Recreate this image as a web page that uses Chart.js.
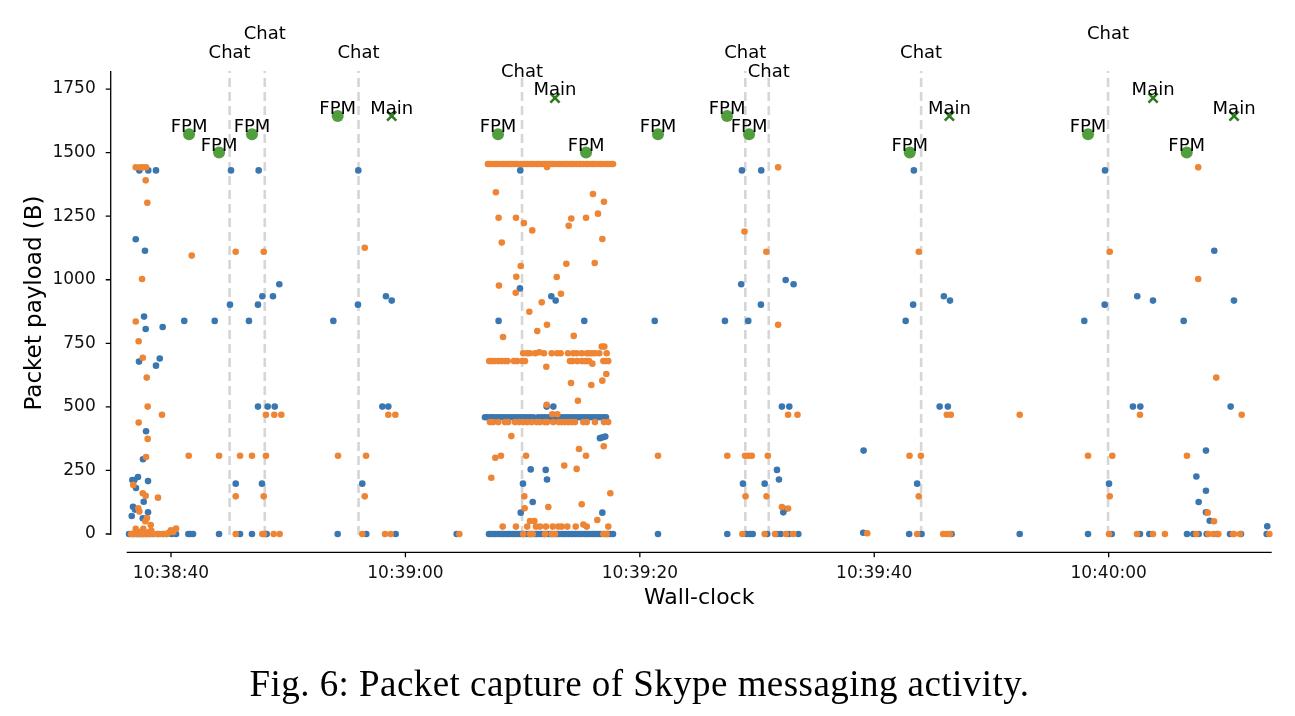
<!DOCTYPE html>
<html><head><meta charset="utf-8">
<script src="https://cdn.jsdelivr.net/npm/chart.js@4.4.0/dist/chart.umd.min.js"></script>
<style>
html,body{margin:0;padding:0;background:#fff;}
#wrap{position:relative;width:1295px;height:716px;overflow:hidden;background:#fff;}
canvas{position:absolute;left:0;top:0;}
#caption{position:absolute;left:-8px;width:1295px;top:662px;text-align:center;font-family:"Liberation Serif",serif;font-size:37px;letter-spacing:0.45px;color:#000;white-space:nowrap;}
</style></head>
<body><div id="wrap"><canvas id="c" width="1295" height="716"></canvas><div id="caption">Fig. 6: Packet capture of Skype messaging activity.</div></div>
<script>
// time = seconds after 10:38:00, payload in bytes
const xTickValues = [40, 60, 80, 100, 120];
const yTickValues = [0, 250, 500, 750, 1000, 1250, 1500, 1750];

const chatTimes  = [45.0, 48.0, 56.0, 69.95, 89.0, 91.0, 104.0, 119.95];
const chatLevels = [1, 2, 1, 0, 1, 0, 1, 2];

const fpmTimes    = [41.54, 44.10, 46.91, 54.22, 67.90, 75.41, 81.55, 87.44, 89.32, 103.03, 118.24, 126.66];
const fpmPayloads = [1572, 1500, 1572, 1644, 1572, 1500, 1572, 1644, 1572, 1500, 1572, 1500];

const mainTimes    = [58.83, 72.76, 106.41, 123.79, 130.70];
const mainPayloads = [1644, 1715, 1644, 1715, 1644];

const bluePackets = [
 [37.30,1430],[38.06,1430],[38.72,1430],[36.99,1159],[37.78,1114],[37.70,855],[37.84,806],[39.29,814],
 [37.27,678],[39.04,690],[38.72,662],[37.87,404],[37.61,294],[36.70,212],[36.87,212],[37.18,224],
 [38.04,208],[37.01,181],[37.67,127],[36.76,107],[36.93,96],[38.04,85],[36.65,71],[37.59,62],
 [36.42,0],[36.65,0],[36.84,0],[37.06,0],[37.30,0],[37.44,0],[37.61,0],[37.93,0],[38.21,0],[38.49,0],
 [38.92,0],[39.32,0],[39.63,0],[40.06,0],[40.43,0],[41.48,0],[41.65,0],[41.88,0],
 [45.12,1430],[47.48,1430],[55.98,1430],[49.24,982],[47.79,935],[48.70,935],[45.03,902],[47.42,902],
 [55.95,902],[58.34,935],[58.83,918],[41.13,838],[43.73,838],[46.65,838],[53.85,838],[47.42,501],
 [48.25,501],[48.85,501],[58.03,501],[58.54,501],[45.52,198],[47.76,198],[56.32,198],
 [44.10,0],[45.89,0],[46.91,0],[48.08,0],[48.16,0],[54.22,0],[56.66,0],[59.17,0],[64.37,0],
 [67.13,0],[67.34,0],[67.55,0],[67.72,0],[67.94,0],[68.15,0],[68.32,0],[68.53,0],[68.75,0],[68.92,0],
 [69.13,0],[69.34,0],[69.51,0],[69.73,0],[69.94,0],[70.11,0],[70.32,0],[70.54,0],[70.71,0],[70.92,0],
 [71.14,0],[71.31,0],[71.52,0],[71.73,0],[71.90,0],[72.12,0],[72.33,0],[72.50,0],[72.72,0],[72.93,0],
 [73.10,0],[73.31,0],[73.53,0],[73.70,0],[73.91,0],[74.13,0],[74.30,0],[74.51,0],[74.72,0],[74.89,0],
 [75.11,0],[75.32,0],[75.49,0],[75.70,0],[75.92,0],[76.09,0],[76.30,0],[76.51,0],[76.68,0],[76.90,0],
 [77.11,0],[77.28,0],[77.50,0],[77.71,0],
 [66.79,459],[67.02,459],[67.28,459],[67.50,459],[67.79,459],[68.07,459],[68.36,459],[68.64,459],
 [68.92,459],[69.21,459],[69.49,459],[69.77,459],[70.06,459],[70.35,459],[70.63,459],[70.91,459],
 [71.34,459],[71.63,459],[71.91,459],[72.19,459],[72.48,459],[72.76,459],[73.19,459],[73.47,459],
 [73.76,459],[74.04,459],[74.32,459],[74.61,459],[74.89,459],[75.18,459],[75.47,459],[75.75,459],
 [76.03,459],[76.32,459],[76.60,459],[76.88,459],[77.11,459],
 [69.80,1430],[69.77,966],[72.45,935],[72.82,918],[67.95,838],[75.26,838],[72.05,501],[72.62,501],
 [76.60,377],[76.83,380],[77.05,383],[70.69,254],[71.97,252],[72.08,214],[70.03,198],[70.86,126],
 [69.84,84],[76.80,84],
 [88.71,1430],[90.36,1430],[103.38,1430],[88.65,982],[92.44,999],[93.12,982],[90.33,902],[103.32,902],
 [105.94,935],[106.46,918],[81.27,838],[87.26,838],[89.25,838],[102.68,838],[92.12,501],[92.75,501],
 [105.58,501],[106.28,501],[99.09,328],[91.70,252],[91.87,214],[88.80,198],[90.65,198],[103.66,198],
 [92.24,85],[92.41,98],
 [81.55,0],[87.46,0],[89.11,0],[89.40,0],[89.63,0],[90.87,0],[91.67,0],[92.02,0],[92.70,0],[93.52,0],
 [99.06,5],[102.98,0],[104.04,0],[106.60,0],
 [119.69,1430],[129.01,1114],[122.44,935],[123.78,918],[119.66,902],[130.69,918],[117.92,838],[126.40,838],
 [122.07,501],[122.70,501],[130.41,501],[128.30,328],[127.48,226],[120.03,198],[128.30,170],[127.68,126],
 [128.30,85],[128.62,52],[133.53,30],
 [112.41,0],[118.24,0],[120.26,0],[122.67,0],[123.47,0],[126.68,0],[127.22,0],[127.68,0],[128.36,0],
 [129.27,0],[130.35,0],[131.29,0],[133.48,0]
];

const orangePackets = [
 [36.99,1442],[37.36,1442],[37.61,1442],[37.87,1442],[37.84,1391],[37.98,1303],[37.53,1003],[36.99,836],
 [37.24,758],[37.59,693],[37.93,615],[38.01,501],[39.23,469],[37.24,438],[38.01,374],[37.87,303],
 [36.78,193],[38.89,143],[37.59,160],[37.84,150],[37.21,101],[37.30,88],[37.95,63],[37.81,50],
 [38.27,35],[40.00,14],[40.43,21],[36.99,20],[37.64,20],[38.32,13],[38.12,8],[37.44,10],[39.80,5],[40.20,8],
 [36.59,0],[36.78,0],[36.99,0],[37.16,0],[37.36,0],[37.55,0],[37.72,0],[37.93,0],[38.12,0],[38.29,0],
 [38.49,0],[38.83,0],[39.06,0],[39.34,0],[39.63,0],
 [41.77,1095],[45.52,1110],[47.91,1110],[56.53,1126],[48.10,469],[48.81,469],[49.41,469],[58.54,469],
 [59.14,469],[41.51,308],[44.10,308],[45.89,308],[46.91,308],[48.10,308],[54.25,308],[56.64,308],
 [45.52,148],[47.91,148],[56.53,148],
 [45.52,0],[47.79,0],[47.93,0],[48.76,0],[49.27,0],[56.32,0],[58.26,0],[58.74,0],[64.60,0],
 [67.04,1455],[67.21,1455],[67.43,1455],[67.64,1455],[67.81,1455],[68.02,1455],[68.24,1455],[68.41,1455],
 [68.62,1455],[68.83,1455],[69.00,1455],[69.22,1455],[69.43,1455],[69.60,1455],[69.82,1455],[70.03,1455],
 [70.20,1455],[70.41,1455],[70.63,1455],[70.80,1455],[71.01,1455],[71.22,1455],[71.39,1455],[71.61,1455],
 [71.82,1455],[71.99,1455],[72.21,1455],[72.42,1455],[72.59,1455],[72.81,1455],[73.02,1455],[73.19,1455],
 [73.40,1455],[73.61,1455],[73.78,1455],[74.00,1455],[74.21,1455],[74.38,1455],[74.60,1455],[74.81,1455],
 [74.98,1455],[75.19,1455],[75.41,1455],[75.58,1455],[75.79,1455],[76.00,1455],[76.17,1455],[76.39,1455],
 [76.60,1455],[76.77,1455],[76.98,1455],[77.20,1455],[77.37,1455],[77.58,1455],[77.71,1455],[72.08,1443],
 [67.21,440],[67.49,440],[67.92,440],[68.49,440],[68.77,440],[69.35,440],[69.71,440],[70.05,440],
 [70.39,440],[70.77,440],[71.19,440],[71.48,440],[71.90,440],[72.10,440],[72.61,440],[73.07,440],
 [73.33,440],[73.61,440],[73.89,440],[74.18,440],[74.47,440],[75.18,440],[75.47,440],[76.17,440],
 [76.94,440],[77.30,440],
 [67.15,680],[67.38,680],[67.64,680],[67.92,680],[68.21,680],[68.49,680],[68.72,680],[69.26,680],
 [69.54,680],[69.97,680],[70.20,680],[74.04,680],[74.27,680],[74.66,680],[75.04,680],[75.26,680],
 [75.47,680],[75.66,680],[76.89,680],[77.09,680],[77.31,680],
 [70.05,711],[70.39,711],[70.63,711],[71.08,711],[71.42,715],[71.82,711],[72.48,711],[72.95,711],
 [73.24,711],[73.87,711],[74.32,711],[74.61,711],[75.04,711],[75.47,711],[75.66,711],[75.89,711],
 [76.17,711],[76.54,711],[76.75,737],[76.97,737],[77.17,711],
 [67.72,1344],[67.95,1244],[69.43,1244],[70.11,1223],[70.82,1194],[68.22,1146],[69.84,1054],[69.46,1012],
 [67.98,977],[69.41,949],[71.63,911],[72.91,1011],[73.27,945],[73.73,1063],[73.93,1212],[74.15,1241],
 [75.41,1244],[76.00,1337],[76.43,1260],[76.94,1307],[76.80,1160],[76.15,1066],[70.57,874],[72.08,823],
 [71.25,798],[68.33,775],[74.36,779],[72.02,658],[75.95,670],[74.13,594],[75.86,586],[76.80,603],
 [77.14,629],[74.72,524],[72.05,508],[72.53,471],[72.96,471],[69.04,385],[67.67,300],[68.15,308],
 [70.29,308],[67.33,221],[73.55,269],[74.61,256],[75.41,308],[74.81,334],[76.92,345],[77.48,160],
 [70.14,148],[70.17,101],[72.19,106],[75.04,117],[76.37,55],
 [68.30,29],[69.43,29],[70.39,29],[71.14,29],[71.48,29],[71.99,29],[72.57,29],[73.04,29],[73.33,29],
 [73.81,29],[74.53,29],[75.47,29],[77.31,29],[70.63,51],[71.00,51],[75.18,37],
 [70.05,0],[70.63,0],[70.86,0],[71.91,0],[72.48,0],[72.76,0],[76.89,0],[77.17,0],
 [91.80,1442],[88.93,1190],[90.79,1110],[103.80,1110],[91.80,823],[92.65,469],[93.45,469],[106.19,469],
 [106.53,469],[81.55,308],[87.46,308],[88.98,308],[89.27,308],[89.55,308],[90.92,308],[103.01,308],
 [103.98,308],[89.02,148],[90.81,148],[103.80,148],[92.12,106],[92.65,100],
 [88.75,0],[90.65,0],[91.53,0],[92.47,0],[93.09,0],[99.40,3],[103.66,0],[105.88,0],[106.17,0],[106.46,0],
 [127.64,1442],[120.09,1110],[127.64,1003],[129.18,615],[122.67,469],[131.35,469],[112.41,469],
 [118.24,308],[120.31,308],[126.68,308],[120.09,148],[128.45,84],[128.99,50],
 [120.03,0],[122.42,0],[123.78,0],[124.80,0],[127.48,0],[128.50,0],[128.93,0],[129.36,0],[130.60,0],
 [130.69,0],[131.21,0],[133.71,0]
];

// axis limits
const X_MIN = 36.22, X_MAX = 133.91;
const Y_MIN = -4, Y_MAX = 1821;

const BLUE = '#3a76af', ORANGE = '#ee8534', GREEN = '#519e3e', DKGREEN = '#2e7b1f';
const FONT = '"DejaVu Sans", sans-serif';

function fmtTime(v) {
  const s = Math.round(v);
  const m = 38 + Math.floor(s / 60);
  const ss = s % 60;
  const hh = 10 + Math.floor(m / 60), mm = m % 60;
  const p = n => String(n).padStart(2, '0');
  return p(hh) + ':' + p(mm) + ':' + p(ss);
}

const toPts = arr => arr.map(([x, y]) => ({x, y}));

const chatDatasets = chatTimes.map((t, i) => ({
  label: 'Chat ' + (i + 1),
  data: [{x: t, y: Y_MIN}, {x: t, y: Y_MAX}],
  showLine: true,
  borderColor: '#d6d6d6',
  borderWidth: 2.6,
  borderDash: [9, 5],
  pointRadius: 0,
  clip: false
}));

const decor = {
  id: 'decor',
  afterDraw(chart) {
    const {ctx, chartArea: a, scales: {x, y}} = chart;
    ctx.save();
    ctx.strokeStyle = '#000';
    ctx.lineWidth = 1.3;
    const sx = a.left - 16, sy = a.bottom + 17.3;
    ctx.beginPath();
    ctx.moveTo(sx, a.top); ctx.lineTo(sx, a.bottom);
    yTickValues.forEach(v => { const p = y.getPixelForValue(v); ctx.moveTo(sx - 5, p); ctx.lineTo(sx, p); });
    ctx.moveTo(a.left, sy); ctx.lineTo(a.right, sy);
    xTickValues.forEach(v => { const p = x.getPixelForValue(v); ctx.moveTo(p, sy); ctx.lineTo(p, sy + 5); });
    ctx.stroke();

    ctx.fillStyle = '#000';
    ctx.font = '18px ' + FONT;
    ctx.textAlign = 'center';
    ctx.textBaseline = 'alphabetic';
    fpmTimes.forEach((t, i) => ctx.fillText('FPM', x.getPixelForValue(t), y.getPixelForValue(fpmPayloads[i]) - 2));
    mainTimes.forEach((t, i) => ctx.fillText('Main', x.getPixelForValue(t), y.getPixelForValue(mainPayloads[i]) - 2.5));
    chatTimes.forEach((t, i) => ctx.fillText('Chat', x.getPixelForValue(t), a.top + 5.5 - 18.6 * chatLevels[i]));
    ctx.restore();
  }
};

new Chart(document.getElementById('c'), {
  type: 'scatter',
  data: {
    datasets: [
      {label: 'Main', data: mainTimes.map((t, i) => ({x: t, y: mainPayloads[i]})), pointStyle: 'crossRot',
       pointRadius: 6.5, borderColor: DKGREEN, backgroundColor: DKGREEN, borderWidth: 2.6, clip: false},
      {label: 'FPM', data: fpmTimes.map((t, i) => ({x: t, y: fpmPayloads[i]})), pointStyle: 'circle',
       pointRadius: 6, backgroundColor: GREEN, borderWidth: 0, clip: false},
      {label: 'orange', data: toPts(orangePackets), pointRadius: 3.3, backgroundColor: ORANGE, borderWidth: 0, clip: false},
      {label: 'blue', data: toPts(bluePackets), pointRadius: 3.3, backgroundColor: BLUE, borderWidth: 0, clip: false},
      ...chatDatasets
    ]
  },
  options: {
    responsive: false,
    animation: false,
    events: [],
    devicePixelRatio: window.devicePixelRatio || 1,
    layout: {padding: {left: 0, right: 23.3, top: 71, bottom: 105}},
    plugins: {legend: {display: false}, tooltip: {enabled: false}},
    scales: {
      x: {
        type: 'linear', min: X_MIN, max: X_MAX,
        afterBuildTicks: s => { s.ticks = xTickValues.map(v => ({value: v})); },
        afterFit: s => { s.height = 76; },
        grid: {display: false, drawTicks: false},
        border: {display: false},
        ticks: {callback: v => fmtTime(v), font: {family: FONT, size: 17}, color: '#111', padding: 28,
                maxRotation: 0, autoSkip: false},
        title: {display: true, text: 'Wall-clock', font: {family: FONT, size: 22}, color: '#000', padding: 0}
      },
      y: {
        type: 'linear', min: Y_MIN, max: Y_MAX,
        afterBuildTicks: s => { s.ticks = yTickValues.map(v => ({value: v})); },
        afterFit: s => { s.width = 126.7; },
        grid: {display: false, drawTicks: false},
        border: {display: false},
        ticks: {callback: v => String(v), font: {family: FONT, size: 17}, color: '#111', padding: 31},
        title: {display: true, text: 'Packet payload (B)', font: {family: FONT, size: 23}, color: '#000',
                padding: {top: 21, bottom: 0}}
      }
    }
  },
  plugins: [decor]
});
</script>
</body></html>
